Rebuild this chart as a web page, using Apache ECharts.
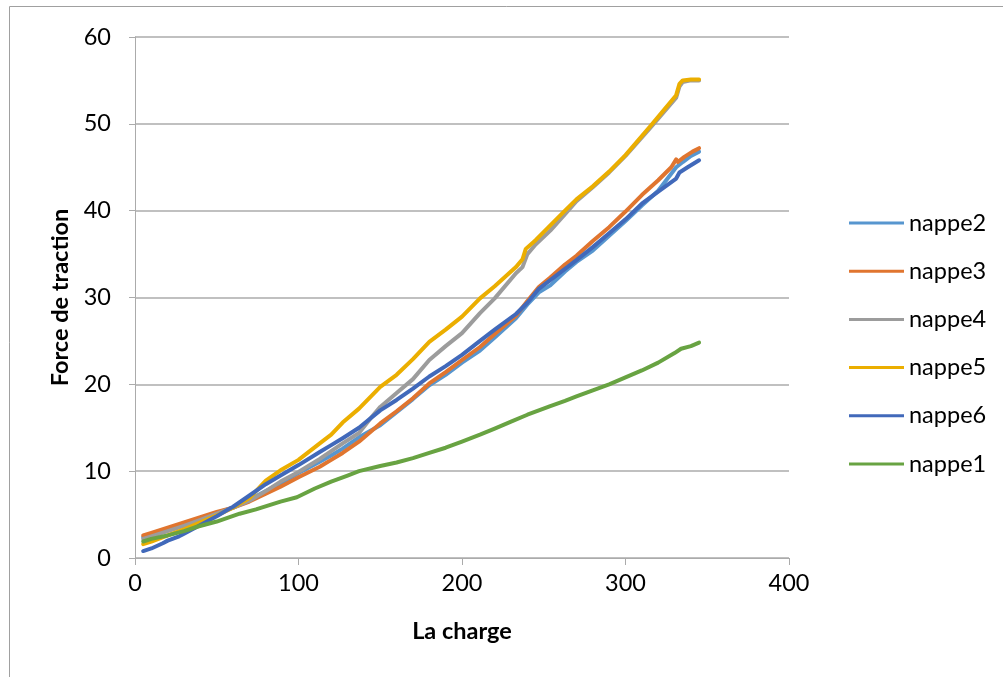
<!DOCTYPE html>
<html>
<head>
<meta charset="utf-8">
<script src="https://cdn.jsdelivr.net/npm/echarts@6/dist/echarts.min.js"></script>
<style>
  html, body { margin: 0; padding: 0; background: #ffffff; }
  #chart { width: 1003px; height: 677px; }
</style>
</head>
<body>
<div id="chart"></div>
<script>
// Axis ticks
const loadTicks = [0, 100, 200, 300, 400];
const forceTicks = [0, 10, 20, 30, 40, 50, 60];

// Measured curves: load (La charge) vs traction force, one pair of arrays per sheet
const nappe2Load  = [5, 10, 20, 30, 40, 50, 60, 70, 80, 89, 100, 113, 120, 127, 137, 150, 160, 170, 180, 190, 200, 211, 220, 233, 240, 247, 254, 263, 270, 280, 290, 300, 310, 320, 331, 335, 340, 345];
const nappe2Force = [2.4, 2.7, 3.3, 3.9, 4.5, 5.2, 5.8, 6.7, 7.7, 8.6, 9.8, 11.1, 11.8, 12.6, 13.9, 15.3, 16.8, 18.3, 19.9, 21.1, 22.5, 23.9, 25.4, 27.6, 29.2, 30.6, 31.4, 33.0, 34.1, 35.4, 37.1, 38.8, 40.6, 42.3, 45.0, 45.6, 46.3, 46.8];

const nappe3Load  = [5, 10, 20, 30, 40, 50, 60, 70, 80, 89, 100, 113, 120, 127, 137, 150, 160, 170, 180, 190, 200, 211, 220, 233, 240, 247, 254, 263, 270, 280, 290, 300, 310, 320, 328, 331, 332, 336, 341, 345];
const nappe3Force = [2.6, 2.9, 3.5, 4.1, 4.7, 5.3, 5.8, 6.5, 7.4, 8.2, 9.3, 10.5, 11.3, 12.1, 13.4, 15.5, 16.9, 18.4, 20.1, 21.4, 22.8, 24.3, 25.8, 27.9, 29.6, 31.2, 32.3, 33.8, 34.8, 36.5, 38.1, 39.9, 41.8, 43.5, 45.0, 45.9, 45.6, 46.2, 46.8, 47.2];

const nappe4Load  = [5, 10, 20, 30, 40, 50, 60, 70, 80, 89, 100, 113, 120, 127, 137, 145, 150, 160, 170, 180, 190, 200, 211, 220, 233, 237, 240, 245, 254, 263, 270, 280, 290, 300, 315, 320, 331, 333, 335, 340, 345];
const nappe4Force = [2.2, 2.5, 3.1, 3.7, 4.4, 5.1, 5.8, 6.6, 7.7, 8.8, 9.9, 11.4, 12.3, 13.2, 14.4, 16.3, 17.4, 19.0, 20.6, 22.8, 24.4, 25.9, 28.2, 29.9, 32.8, 33.5, 35.0, 36.1, 37.7, 39.6, 41.1, 42.7, 44.4, 46.3, 49.5, 50.6, 53.0, 54.3, 54.8, 55.0, 55.0];

const nappe5Load  = [5, 10, 20, 30, 40, 50, 60, 70, 80, 89, 100, 113, 120, 127, 137, 150, 160, 170, 180, 190, 200, 211, 220, 233, 237, 239, 245, 254, 263, 270, 280, 290, 300, 315, 320, 331, 333, 335, 340, 345];
const nappe5Force = [1.6, 1.9, 2.6, 3.3, 4.1, 4.9, 5.8, 6.9, 8.9, 10.1, 11.3, 13.2, 14.2, 15.6, 17.2, 19.7, 21.1, 22.9, 24.9, 26.3, 27.8, 29.9, 31.3, 33.5, 34.4, 35.6, 36.6, 38.3, 40.0, 41.3, 42.8, 44.5, 46.4, 49.7, 50.8, 53.3, 54.6, 55.0, 55.1, 55.1];

const nappe6Load  = [5, 10, 17, 20, 27, 30, 40, 50, 58, 60, 70, 80, 89, 100, 113, 120, 127, 137, 150, 160, 170, 180, 190, 200, 211, 220, 233, 240, 247, 254, 263, 270, 280, 290, 300, 310, 320, 331, 333, 338, 345];
const nappe6Force = [0.8, 1.1, 1.7, 2.0, 2.5, 2.8, 3.8, 4.8, 5.7, 5.9, 7.2, 8.5, 9.5, 10.7, 12.2, 13.0, 13.8, 15.0, 17.0, 18.2, 19.5, 20.9, 22.1, 23.4, 25.0, 26.3, 28.1, 29.4, 31.0, 32.0, 33.3, 34.3, 35.8, 37.4, 39.0, 40.8, 42.2, 43.7, 44.4, 45.0, 45.8];

const nappe1Load  = [5, 10, 20, 30, 38, 50, 64, 74, 89, 99, 110, 120, 130, 137, 150, 160, 170, 180, 190, 200, 211, 220, 230, 240, 254, 263, 270, 280, 290, 300, 310, 320, 330, 334, 340, 345];
const nappe1Force = [1.9, 2.2, 2.6, 3.1, 3.6, 4.2, 5.1, 5.6, 6.5, 7.0, 8.0, 8.8, 9.5, 10.0, 10.6, 11.0, 11.5, 12.1, 12.7, 13.4, 14.2, 14.9, 15.7, 16.5, 17.5, 18.1, 18.6, 19.3, 20.0, 20.8, 21.6, 22.5, 23.6, 24.1, 24.4, 24.8];

const seriesNames = ['nappe2', 'nappe3', 'nappe4', 'nappe5', 'nappe6', 'nappe1'];
const seriesLoads = [nappe2Load, nappe3Load, nappe4Load, nappe5Load, nappe6Load, nappe1Load];
const seriesForces = [nappe2Force, nappe3Force, nappe4Force, nappe5Force, nappe6Force, nappe1Force];
const seriesColors = ['#5796CF', '#E0752F', '#9C9C9C', '#EBAE00', '#4169BA', '#68A342'];

const FONT = 'Lato, "Open Sans", sans-serif';
const FONT_SIZE = 23.5;
const GRID_COLOR = '#ababab';

const chart = echarts.init(document.getElementById('chart'), null, { renderer: 'canvas' });

const series = seriesNames.map((name, i) => ({
  name: name,
  type: 'line',
  data: seriesLoads[i].map((x, j) => [x, seriesForces[i][j]]),
  showSymbol: false,
  symbol: 'none',
  smooth: false,
  lineStyle: { width: 4, color: seriesColors[i], cap: 'round', join: 'round' },
  itemStyle: { color: seriesColors[i] },
  emphasis: { disabled: true },
  animation: false
}));

chart.setOption({
  backgroundColor: '#ffffff',
  animation: false,
  graphic: [{
    type: 'rect',
    shape: { x: 9.5, y: 6.5, width: 1010, height: 700 },
    style: { fill: 'none', stroke: '#a0a0a0', lineWidth: 1 },
    silent: true
  }],
  grid: { left: 135, right: 214, top: 37, bottom: 119, containLabel: false },
  xAxis: {
    type: 'value',
    min: loadTicks[0],
    max: loadTicks[loadTicks.length - 1],
    interval: loadTicks[1] - loadTicks[0],
    name: 'La charge',
    nameLocation: 'middle',
    nameGap: 61,
    nameTextStyle: { fontFamily: FONT, fontSize: FONT_SIZE, fontWeight: 'bold', color: '#000' },
    axisLine: { show: true, onZero: false, lineStyle: { color: GRID_COLOR, width: 1 } },
    axisTick: { show: true, length: 7, inside: false, lineStyle: { color: GRID_COLOR } },
    axisLabel: { margin: 13, fontFamily: FONT, fontSize: FONT_SIZE, color: '#000' },
    splitLine: { show: false }
  },
  yAxis: {
    type: 'value',
    min: forceTicks[0],
    max: forceTicks[forceTicks.length - 1],
    interval: forceTicks[1] - forceTicks[0],
    name: 'Force de traction',
    nameLocation: 'middle',
    nameGap: 61,
    nameTextStyle: { fontFamily: FONT, fontSize: FONT_SIZE, fontWeight: 'bold', color: '#000' },
    axisLine: { show: true, lineStyle: { color: GRID_COLOR, width: 1 } },
    axisTick: { show: true, length: 6, inside: false, lineStyle: { color: GRID_COLOR } },
    axisLabel: { margin: 24, fontFamily: FONT, fontSize: FONT_SIZE, color: '#000' },
    splitLine: { show: true, lineStyle: { color: GRID_COLOR, width: 1.5 } }
  },
  legend: {
    orient: 'vertical',
    left: 849,
    top: 211,
    padding: 0,
    itemWidth: 55,
    itemHeight: 14,
    itemGap: 24.2,
    icon: 'path://M0,6 L55,6 L55,9 L0,9 Z',
    data: seriesNames.map((n, i) => ({ name: n, itemStyle: { color: seriesColors[i] } })),
    textStyle: { fontFamily: FONT, fontSize: FONT_SIZE, color: '#000', lineHeight: 24, padding: [0, 0, 0, 0] },
    selectedMode: false
  },
  series: series
});
</script>
</body>
</html>
